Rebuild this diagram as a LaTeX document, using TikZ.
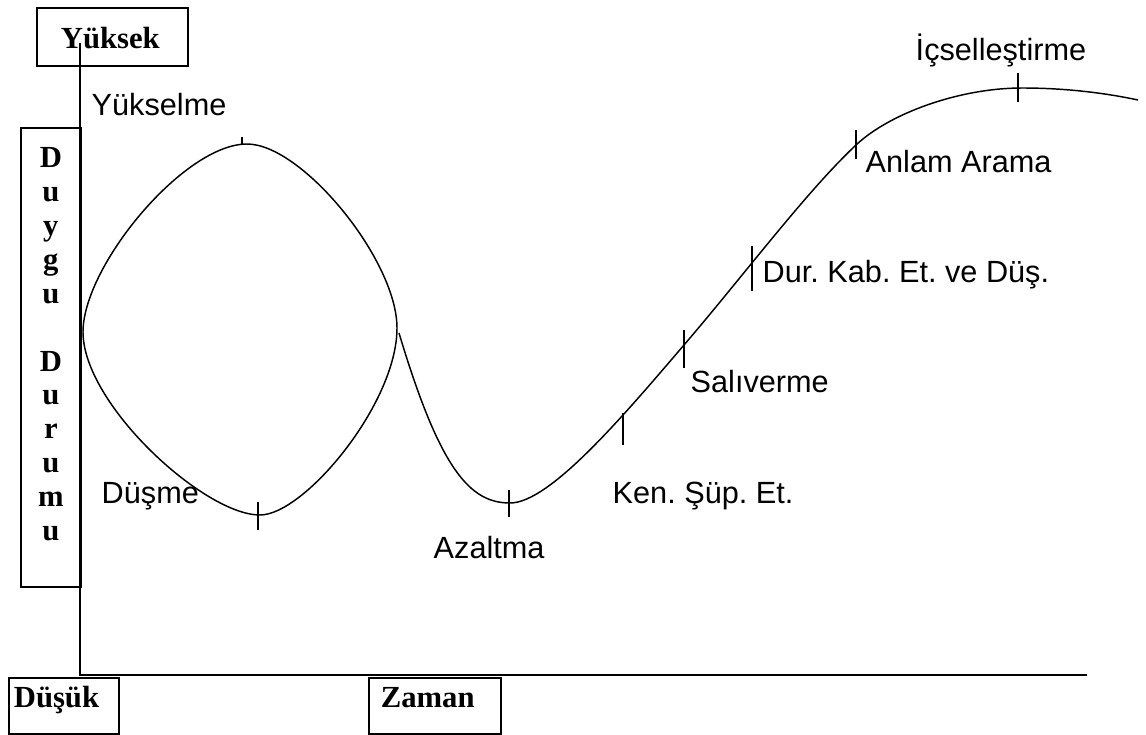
\documentclass[tikz,border=0pt]{standalone}
\usepackage{fontspec}
\setmainfont{Liberation Serif}
\setsansfont{Liberation Sans}
\frenchspacing

\begin{document}
\begin{tikzpicture}[
    x=0.75pt, y=-0.75pt,
    line width=1.1pt,
    stage/.style={anchor=base west, inner sep=0pt,
                  font=\sffamily\fontsize{23}{27}\selectfont},
    axisbox/.style={draw, line width=1.3pt, anchor=north west, inner ysep=0pt,
                    align=left, font=\bfseries\fontsize{23}{27}\selectfont},
    curve/.style={line width=1.1pt},
    tick/.style={line width=1.1pt}
  ]
  \useasboundingbox (0,0) rectangle (1146,735);

  % ---- axes ----
  \coordinate (ytop) at (80,43);
  \coordinate (origin) at (80,675);
  \coordinate (xend) at (1087,675);
  \draw (ytop) -- (origin) -- (xend);

  % ---- axis labels ----
  \node[axisbox, text width=77.25pt, inner xsep=18pt,
        text height=30.75pt, text depth=12.75pt] (high) at (36,7) {Yüksek};
  \node[axisbox, align=center, text width=45pt, inner xsep=0pt,
        text height=30pt, text depth=314.25pt,
        font=\bfseries\fontsize{23}{25.4}\selectfont] (mood) at (20,127)
    {D\\u\\y\\g\\u\\\mbox{}\\D\\u\\r\\u\\m\\u};
  \node[axisbox, text width=75pt, inner xsep=3.75pt,
        text height=22.5pt, text depth=19.5pt] (low) at (8,677) {Düşük};
  \node[axisbox, text width=81pt, inner xsep=9pt,
        text height=22.5pt, text depth=19.5pt] (time) at (368,677) {Zaman};

  % ---- loop: rise and fall ----
  \draw[curve] (83,332) .. controls (83,266) and (184,144) .. (247,144)
    .. controls (302,144) and (397,260) .. (397,328)
    .. controls (397,404) and (304,515) .. (260,515)
    .. controls (204,515) and (83,404) .. cycle;

  % ---- second curve: reduce, then climb ----
  \draw[curve] (399,333) .. controls (440,470) and (470,503) .. (510,503)
    .. controls (550,503) and (624,415) .. (684,345)
    .. controls (744,275) and (806,192) .. (856,145)
    .. controls (890,113) and (960,88) .. (1022,88)
    .. controls (1070,88) and (1110,94) .. (1138,100);

  % ---- stage ticks ----
  \foreach \x/\a/\b in {242/137/145, 258/502/530, 509/490/517, 623/413/445,
                        684/330/368, 752/246/291, 856/130/159, 1018/73/102}
    \draw[tick] (\x,\a) -- (\x,\b);

  % ---- stage names ----
  \node[stage] (rise) at (91,115) {Yükselme};
  \node[stage] (fall) at (101,503) {Düşme};
  \node[stage] (reduce) at (433,558) {Azaltma};
  \node[stage] (doubt) at (612,503) {Ken. Şüp. Et.};
  \node[stage] (release) at (690,392) {Salıverme};
  \node[stage] (accept) at (762,282) {Dur. Kab. Et. ve Düş.};
  \node[stage] (meaning) at (865,172) {Anlam Arama};
  \node[stage] (internal) at (915,61) {İçselleştirme};

\end{tikzpicture}
\end{document}
